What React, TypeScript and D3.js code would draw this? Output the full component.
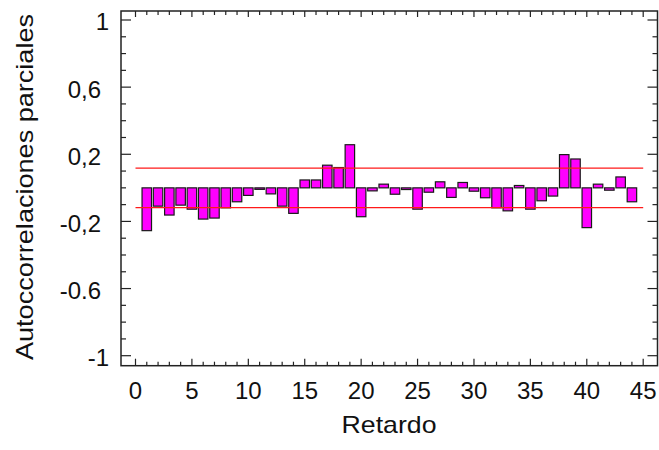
import React from 'react'
import * as d3 from 'd3'

// lags 1..44 and the partial autocorrelation
const lags = d3.range(1, 45)
const pacf = [
  -0.255, -0.109, -0.162, -0.103, -0.127, -0.186, -0.18, -0.119, -0.083, -0.045,
  -0.006, -0.036, -0.109, -0.152, 0.047, 0.047, 0.135, 0.121, 0.257, -0.172,
  -0.018, 0.022, -0.038, -0.01, -0.127, -0.026, 0.036, -0.057, 0.032, -0.02,
  -0.059, -0.119, -0.137, 0.014, -0.127, -0.077, -0.049, 0.198, 0.172, -0.237,
  0.022, -0.014, 0.065, -0.083
]
const limit = 0.118
const xTicks = [0, 5, 10, 15, 20, 25, 30, 35, 40, 45]
const yTicks = [1, 0.6, 0.2, -0.2, -0.6, -1]
const yTickLabels = ['1', '0,6', '0,2', '-0,2', '-0.6', '-1']

const W = 659
const H = 450
const left = 121
const right = 657.5
const top = 11
const bottom = 365.7
const font = '"Liberation Sans", Arial, sans-serif'

const App = () => {
  const x = d3.scaleLinear().domain([0, 45]).range([135.5, 643.2])
  const y = d3.scaleLinear().domain([-1, 1]).range([355.7, 20])
  const barHalf = 0.42

  const minorX = d3.range(0, 46)
  const minorY = d3.range(-10, 11).map(d => d / 10)

  return (
    <svg width={W} height={H} style={{ position: 'absolute', left: 0, top: 0, background: '#fff' }}>
      {/* bars */}
      {lags.map((lag, i) => {
        const v = pacf[i]
        const y0 = y(Math.max(0, v))
        const y1 = y(Math.min(0, v))
        return (
          <rect key={lag}
            x={x(lag - barHalf)} y={y0}
            width={x(lag + barHalf) - x(lag - barHalf)}
            height={Math.max(1.5, y1 - y0)}
            fill='#ff00ff' stroke='#1a1a1a' strokeWidth={1.2} />
        )
      })}

      {/* confidence limits */}
      {[limit, -limit].map(l => (
        <line key={l} x1={x(0)} x2={x(45)} y1={y(l)} y2={y(l)} stroke='#ff1a1a' strokeWidth={1.3} />
      ))}

      {/* frame */}
      <rect x={left} y={top} width={right - left} height={bottom - top} fill='none' stroke='#222' strokeWidth={1.5} />

      {/* x ticks bottom + top */}
      {minorX.map(t => {
        const major = t % 5 === 0
        return (
          <g key={'x' + t} stroke='#222' strokeWidth={1.2}>
            <line x1={x(t)} x2={x(t)} y1={bottom} y2={bottom - (major ? 7 : 4)} />
            <line x1={x(t)} x2={x(t)} y1={top} y2={top + (major ? 6 : 4)} />
          </g>
        )
      })}

      {/* y ticks left + right */}
      {minorY.map(t => {
        const major = yTicks.some(m => Math.abs(m - t) < 1e-6)
        const len = major ? 10 : 5
        return (
          <g key={'y' + t} stroke='#222' strokeWidth={1.2}>
            <line x1={left} x2={left + len} y1={y(t)} y2={y(t)} />
            <line x1={right} x2={right - len} y1={y(t)} y2={y(t)} />
          </g>
        )
      })}

      {/* x tick labels */}
      {xTicks.map(t => (
        <text key={'xl' + t} x={x(t)} y={399.3} textAnchor='middle'
          fontFamily={font} fontSize={24} fill='#111'>{t}</text>
      ))}

      {/* y tick labels */}
      {yTicks.map((t, i) => {
        const lab = yTickLabels[i]
        const hasSep = /[.,]/.test(lab)
        return (
          <text key={'yl' + t} x={hasSep ? 101 : 109} y={y(t) + 2} dy='0.35em' textAnchor='end'
            fontFamily={font} fontSize={24} fill='#111'>{lab}</text>
        )
      })}

      {/* axis titles */}
      <text x={389} y={433.3} textAnchor='middle' fontFamily={font} fontSize={24} fill='#111'
        textLength={95} lengthAdjust='spacingAndGlyphs'>Retardo</text>
      <text transform='translate(33,187) rotate(-90)' textAnchor='middle' fontFamily={font} fontSize={24} fill='#111'
        textLength={346} lengthAdjust='spacingAndGlyphs'>Autoccorrelaciones parciales</text>
    </svg>
  )
}

export default App
